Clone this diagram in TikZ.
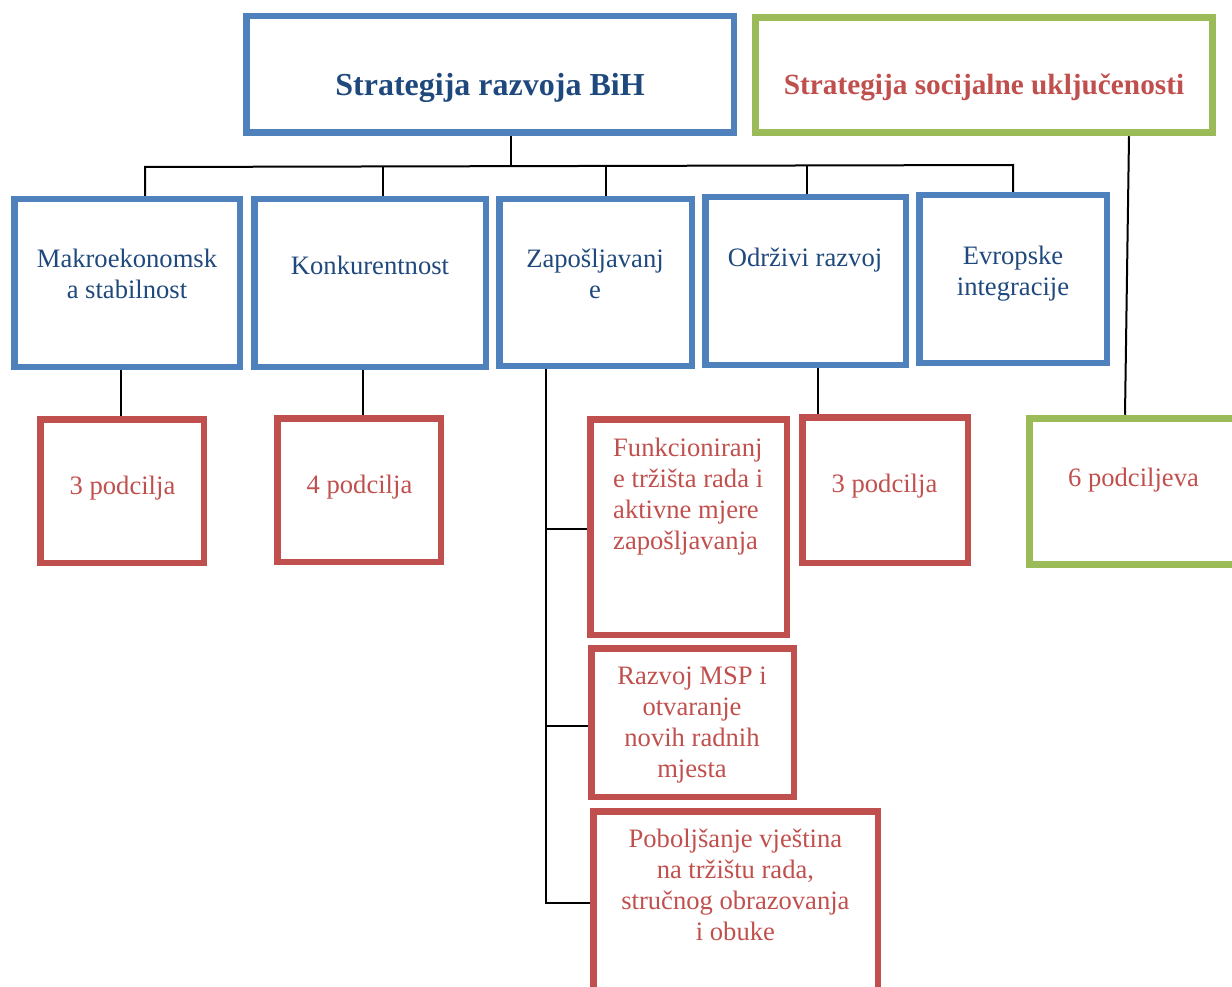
\documentclass[tikz,border=0pt]{standalone}
\usepackage{fontspec}
\setmainfont{Liberation Serif}

\definecolor{boxblue}{HTML}{4F81BD}
\definecolor{txtblue}{HTML}{1F497D}
\definecolor{boxred}{HTML}{C0504D}
\definecolor{boxgreen}{HTML}{9BBB59}

\tikzset{
  frame/.style={draw, rectangle, line width=6.5pt, inner sep=0pt},
  bluebox/.style={frame, draw=boxblue},
  redbox/.style={frame, draw=boxred},
  greenbox/.style={frame, draw=boxgreen, line width=7pt},
  bodytxt/.style={inner sep=0pt, align=center, font=\fontsize{26.6}{31}\selectfont},
  bluetxt/.style={bodytxt, text=txtblue},
  redtxt/.style={bodytxt, text=boxred},
  titletxt/.style={inner sep=0pt},
  link/.style={draw=black, line width=2pt},
}

% box given by its outer edges: name, style, left, top, right, bottom
\newcommand\outerbox[6]{%
  \node[#2, minimum width={#5-#3-6.5}, minimum height={#6-#4-6.5}] (#1)
    at ({(#3+#5)/2},{(#4+#6)/2}) {};}

\begin{document}
\begin{tikzpicture}[x=1pt, y=-1pt]
  \useasboundingbox (0,0) rectangle (1232,987);

  % strategies
  \outerbox{top}{bluebox}{243}{13}{737}{136}
  \outerbox{soc}{greenbox}{752}{14}{1216}{136}
  \node[titletxt, text=txtblue, anchor=base, font=\bfseries\fontsize{32}{36}\selectfont]
    (ttop) at (490,96) {Strategija razvoja BiH};
  \node[titletxt, text=boxred, anchor=base, font=\bfseries\fontsize{29.3}{34}\selectfont]
    (tsoc) at (984,95) {Strategija socijalne uključenosti};

  % pillars
  \outerbox{mak}{bluebox}{11}{196}{243}{370}
  \outerbox{kon}{bluebox}{251}{196}{489}{370}
  \outerbox{zap}{bluebox}{496}{196}{695}{369}
  \outerbox{odr}{bluebox}{702}{194}{909}{368}
  \outerbox{evr}{bluebox}{916}{192}{1110}{366}
  % multi-line labels are placed by the baseline of their last line
  \node[bluetxt, anchor=base] (tmak) at (127,298.3) {Makroekonomsk\\a stabilnost};
  \node[bluetxt, anchor=base] (tkon) at (370,274) {Konkurentnost};
  \node[bluetxt, anchor=base] (tzap) at (595,298.3) {Zapošljavanj\\e};
  \node[bluetxt, anchor=base] (todr) at (805,266.7) {Održivi razvoj};
  \node[bluetxt, anchor=base] (tevr) at (1013,295) {Evropske\\integracije};

  % sub-goals
  \outerbox{p1}{redbox}{37}{416}{207}{566}
  \outerbox{p2}{redbox}{274}{415}{444}{565}
  \outerbox{fun}{redbox}{587}{416}{790}{638}
  \outerbox{p3}{redbox}{799}{414}{971}{566}
  \outerbox{six}{greenbox}{1026}{415}{1240}{568}
  \outerbox{raz}{redbox}{588}{645}{797}{800}
  \outerbox{pob}{redbox}{590}{808}{881}{1000}
  \node[redtxt, anchor=base] (tp1) at (122.5,494) {3 podcilja};
  \node[redtxt, anchor=base] (tp2) at (359.5,493) {4 podcilja};
  \node[redtxt, anchor=base] (tp3) at (884.5,492) {3 podcilja};
  \node[redtxt, anchor=base] (tsix) at (1133.5,486) {6 podciljeva};
  \node[redtxt, align=left, anchor=base west] (tfun) at (613,549.3)
    {Funkcioniranj\\e tržišta rada i\\aktivne mjere\\zapošljavanja};
  \node[redtxt, anchor=base] (traz) at (692,777.7)
    {Razvoj MSP i\\otvaranje\\novih radnih\\mjesta};
  \node[redtxt, anchor=base] (tpob) at (735.4,940)
    {Poboljšanje vještina\\na tržištu rada,\\stručnog obrazovanja\\i obuke};

  % pillar bus
  \coordinate (b0) at (511,166);
  \coordinate (b1) at (145,167);
  \coordinate (b2) at (383,166);
  \coordinate (b3) at (606,166);
  \coordinate (b4) at (807,166);
  \coordinate (b5) at (1013,165);
  \draw[link] (b0 |- top.south) -- (b0);
  \draw[link] (b1 |- mak.north) -- (b1) -- (b5) -- (b5 |- evr.north);
  \draw[link] (b2) -- (b2 |- kon.north);
  \draw[link] (b3) -- (b3 |- zap.north);
  \draw[link] (b4) -- (b4 |- odr.north);

  % pillar to sub-goal links
  \coordinate (c1) at (121,0);
  \coordinate (c2) at (363,0);
  \coordinate (c4) at (818,0);
  \draw[link] (c1 |- mak.south) -- (c1 |- p1.north);
  \draw[link] (c2 |- kon.south) -- (c2 |- p2.north);
  \draw[link] (c4 |- odr.south) -- (c4 |- p3.north);

  % employment trunk
  \coordinate (tf) at (546,529);
  \coordinate (tr) at (546,726);
  \coordinate (tp) at (546,903);
  \draw[link] (tp |- zap.south) -- (tp) -- (tp -| pob.west);
  \draw[link] (tf) -- (tf -| fun.west);
  \draw[link] (tr) -- (tr -| raz.west);

  % social inclusion link
  \coordinate (g1) at (1129,0);
  \coordinate (g2) at (1125,0);
  \draw[link] (g1 |- soc.south) -- (g2 |- six.north);
\end{tikzpicture}
\end{document}
